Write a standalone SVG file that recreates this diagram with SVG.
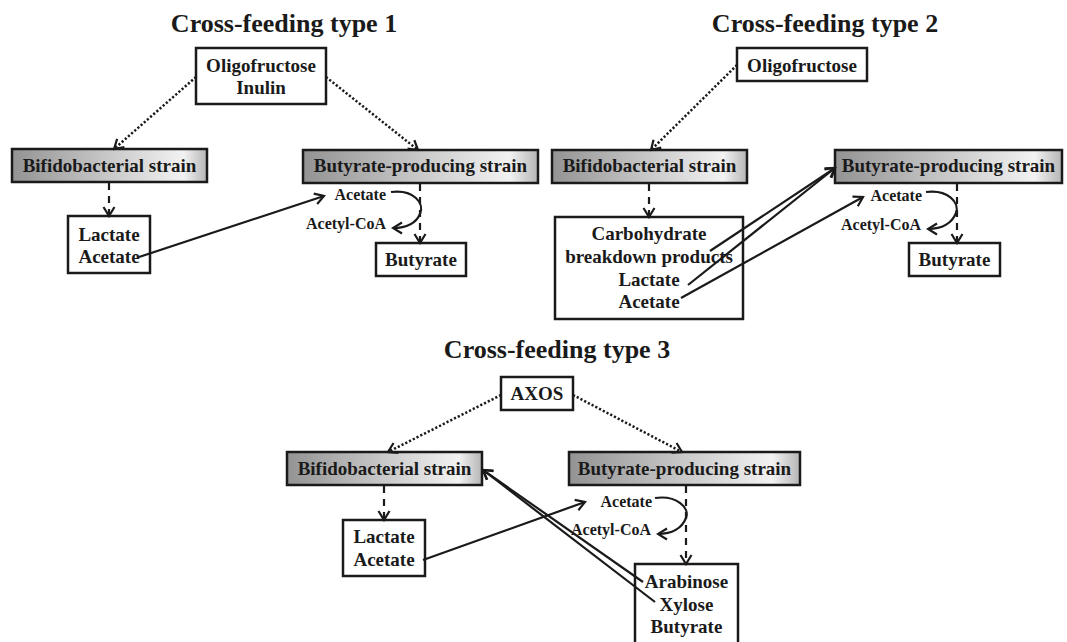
<svg xmlns="http://www.w3.org/2000/svg" width="1067" height="642" viewBox="0 0 1067 642">
<defs>
<linearGradient id="g" x1="0" y1="0" x2="1" y2="0">
<stop offset="0" stop-color="#939393"/>
<stop offset="0.88" stop-color="#f2f2f2"/>
<stop offset="1" stop-color="#b5b5b5"/>
</linearGradient>
<marker id="ah" markerUnits="userSpaceOnUse" markerWidth="14" markerHeight="14" viewBox="0 0 14 14" refX="12" refY="7" orient="auto">
<path d="M3,1.5 L12,7 L3,12.5" fill="none" stroke="#1a1a1a" stroke-width="2.2"/>
</marker>
</defs>
<style>
.t{font-family:"Liberation Serif","Times New Roman",serif;font-weight:bold;fill:#1a1a1a;text-anchor:middle}
.title{font-size:26px}
.lb{font-size:19px}
.sm{font-size:16px;text-anchor:end}
.box{fill:#fff;stroke:#1a1a1a;stroke-width:2.5}
.sbox{fill:url(#g);stroke:#1a1a1a;stroke-width:2.5}
.dot{fill:none;stroke:#1a1a1a;stroke-width:2.5;stroke-dasharray:2.2 2;marker-end:url(#ah)}
.dash{fill:none;stroke:#1a1a1a;stroke-width:2.2;stroke-dasharray:7 6;marker-end:url(#ah)}
.sol{fill:none;stroke:#1a1a1a;stroke-width:2.2;marker-end:url(#ah)}
</style>

<text class="t title" x="284" y="32">Cross-feeding type 1</text>
<text class="t title" x="825" y="32">Cross-feeding type 2</text>
<text class="t title" x="557" y="358">Cross-feeding type 3</text>

<g id="t1-source"><rect class="box" x="196" y="48" width="130" height="56"/><text class="t lb" x="261" y="72">Oligofructose</text><text class="t lb" x="261" y="94">Inulin</text></g>
<g id="t1-bifido"><rect class="sbox" x="12" y="149" width="195" height="33"/><text class="t lb" x="109.5" y="172">Bifidobacterial strain</text></g>
<g id="t1-butprod"><rect class="sbox" x="303" y="150" width="235" height="33"/><text class="t lb" x="420.5" y="172">Butyrate-producing strain</text></g>
<g id="t1-lactate"><rect class="box" x="68" y="216" width="82" height="57"/><text class="t lb" x="109" y="241">Lactate</text><text class="t lb" x="109" y="263">Acetate</text></g>
<g id="t1-butyrate"><rect class="box" x="376" y="243" width="90" height="33"/><text class="t lb" x="421" y="266">Butyrate</text></g>
<g id="t1-labels"><text class="t sm" x="386" y="200">Acetate</text><text class="t sm" x="386" y="229">Acetyl-CoA</text></g>

<g id="t2-source"><rect class="box" x="737" y="48" width="130" height="33"/><text class="t lb" x="802" y="72">Oligofructose</text></g>
<g id="t2-bifido"><rect class="sbox" x="552" y="150" width="195" height="33"/><text class="t lb" x="649.5" y="172">Bifidobacterial strain</text></g>
<g id="t2-butprod"><rect class="sbox" x="835" y="150" width="227" height="33"/><text class="t lb" x="948.5" y="172">Butyrate-producing strain</text></g>
<g id="t2-products"><rect class="box" x="555" y="217" width="188" height="102"/><text class="t lb" x="649" y="240">Carbohydrate</text><text class="t lb" x="649" y="263">breakdown products</text><text class="t lb" x="649" y="286">Lactate</text><text class="t lb" x="649" y="308">Acetate</text></g>
<g id="t2-butyrate"><rect class="box" x="909" y="243" width="91" height="33"/><text class="t lb" x="954.5" y="266">Butyrate</text></g>
<g id="t2-labels"><text class="t sm" x="922" y="201">Acetate</text><text class="t sm" x="921" y="230">Acetyl-CoA</text></g>

<g id="t3-source"><rect class="box" x="501" y="377" width="72" height="33"/><text class="t lb" x="537" y="400">AXOS</text></g>
<g id="t3-bifido"><rect class="sbox" x="287" y="452" width="195" height="33"/><text class="t lb" x="384.5" y="475">Bifidobacterial strain</text></g>
<g id="t3-butprod"><rect class="sbox" x="569" y="452" width="231" height="33"/><text class="t lb" x="684.5" y="475">Butyrate-producing strain</text></g>
<g id="t3-lactate"><rect class="box" x="343" y="520" width="82" height="56"/><text class="t lb" x="384" y="543">Lactate</text><text class="t lb" x="384" y="566">Acetate</text></g>
<g id="t3-products"><rect class="box" x="635" y="564" width="103" height="82"/><text class="t lb" x="686.5" y="588">Arabinose</text><text class="t lb" x="686.5" y="611">Xylose</text><text class="t lb" x="686.5" y="633">Butyrate</text></g>
<g id="t3-labels"><text class="t sm" x="652" y="507">Acetate</text><text class="t sm" x="651" y="535">Acetyl-CoA</text></g>

<g id="connectors">
<path class="dot" d="M196,77 L114,149"/>
<path class="dot" d="M326,77 L418,150"/>
<path class="dash" d="M109,183 L109,216"/>
<path class="dash" d="M420,184 L420,243"/>
<path class="sol" d="M139,257 L324,196"/>
<path class="sol" d="M391,192 C413,189 425,203 420,214 C416,223 406,228 393,228"/>

<path class="dot" d="M737,65 L651,150"/>
<path class="dash" d="M649,184 L649,217"/>
<path class="dash" d="M957,184 L957,243"/>
<path class="sol" d="M710,251 L835,168"/>
<path class="sol" d="M688,285 L835,168"/>
<path class="sol" d="M681,298 L863,197"/>
<path class="sol" d="M926,192 C948,189 960,203 956,213 C952,223 942,229 928,229"/>

<path class="dot" d="M501,395 L388,452"/>
<path class="dot" d="M573,395 L682,452"/>
<path class="dash" d="M384,486 L384,520"/>
<path class="dash" d="M686,486 L686,564"/>
<path class="sol" d="M423,560 L585,502"/>
<path class="sol" d="M643,582 L483,470"/>
<path class="sol" d="M655,602 L483,470"/>
<path class="sol" d="M655,498 C677,495 690,508 686,518 C682,528 672,534 658,534"/>
</g>
</svg>
